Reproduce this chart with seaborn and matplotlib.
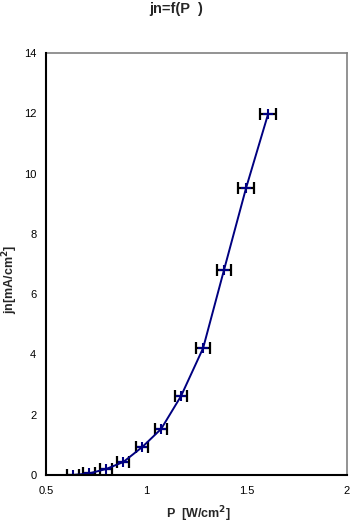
import pandas as pd
import matplotlib.pyplot as plt
import seaborn as sns

# data
P = [0.635, 0.714, 0.80, 0.885, 0.98, 1.074, 1.173, 1.283, 1.387, 1.497, 1.607]
jn = [0.0, 0.05, 0.2, 0.43, 0.93, 1.53, 2.62, 4.21, 6.80, 9.52, 11.98]
P_err = [0.028, 0.028, 0.03, 0.03, 0.03, 0.03, 0.032, 0.035, 0.037, 0.039, 0.04]

df = pd.DataFrame({"P": P, "jn": jn, "err": P_err})

sns.set_style("white")
plt.rcParams['font.family'] = ['Liberation Sans', 'DejaVu Sans']

fig = plt.figure(figsize=(3.52, 5.25), dpi=100)
ax = fig.add_axes([46 / 352, 1 - 475 / 525, 301 / 352, 422 / 525])

ax.errorbar(df["P"], df["jn"], xerr=df["err"], fmt='none', ecolor='black',
            elinewidth=1.6, capsize=4, capthick=1.6, zorder=2)
sns.lineplot(data=df, x="P", y="jn", ax=ax, color='#000080', linewidth=1.4,
             marker='+', markersize=7, markeredgewidth=1.5,
             markeredgecolor='#000080', zorder=3)

ax.set_xlim(0.5, 2)
ax.set_ylim(0, 14)
ax.set_xticks([0.5, 1, 1.5, 2])
ax.set_xticklabels(["0.5", "1", "1.5", "2"])
ax.set_yticks(range(0, 15, 2))
ax.tick_params(axis='both', direction='inout', length=6, width=1.2,
               labelsize=8, colors='black')
ax.tick_params(axis='x', pad=5)
ax.tick_params(axis='y', pad=4)

for side in ['left', 'bottom']:
    ax.spines[side].set_color('black')
    ax.spines[side].set_linewidth(1.5)
for side in ['top', 'right']:
    ax.spines[side].set_color('#808080')
    ax.spines[side].set_linewidth(1.2)
ax.spines['left'].set_zorder(4)
ax.spines['bottom'].set_zorder(4)

ax.set_xlabel(r"P  [W/cm$^\mathbf{2}$]", fontsize=9, fontweight='bold', va='center')
ax.set_ylabel(r"jn[mA/cm$^\mathbf{2}$]", fontsize=9, fontweight='bold', va='center')
ax.xaxis.set_label_coords(0.505, -0.094)
ax.yaxis.set_label_coords(-0.12, 0.464)
fig.text(0.5, 1 - 9 / 525, "jn=f(P  )", ha='center', va='center',
         fontsize=10.5, fontweight='bold')

fig.savefig("out.png", dpi=100)
